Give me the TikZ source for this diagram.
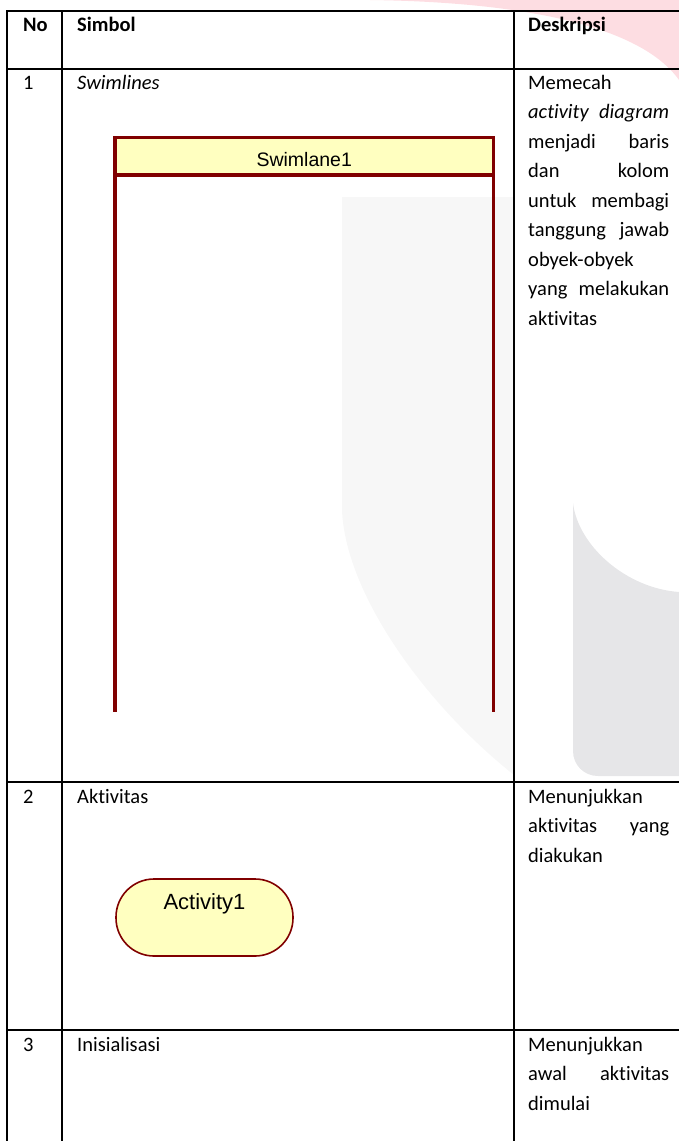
\documentclass[tikz,border=0pt]{standalone}
\usepackage{fontspec}
\setmainfont{Carlito}[Ligatures=NoCommon]
\newfontfamily\shapefont{Liberation Sans}
\definecolor{swred}{HTML}{800000}
\definecolor{swfill}{HTML}{FFFFC0}
\definecolor{wmpink}{HTML}{FDDDE2}
\definecolor{wmlight}{HTML}{F7F7F7}
\definecolor{wmdark}{HTML}{E6E6E8}
\newcommand\jline[2]{\hbox to 141pt{#1\hfill #2}}
\newcommand\lline[1]{\hbox to 141pt{#1\hfill}}
\begin{document}
\begin{tikzpicture}[x=1pt,y=-1pt,
  cell/.style={inner sep=0pt, anchor=base west, font=\fontsize{20.5}{29.5}\selectfont},
  hdr/.style={cell, font=\fontsize{20.5}{29.5}\selectfont\bfseries},
  grid/.style={line width=1.4pt, draw=black, line cap=rect},
  swhead/.style={draw=swred, fill=swfill, line width=3.5pt, minimum width=378.5pt,
    minimum height=37.5pt, inner sep=0pt, outer sep=0pt, text height=20pt, text depth=0pt,
    font=\shapefont\fontsize{19.5}{22}\selectfont},
  swline/.style={draw=swred, line width=3.5pt},
  actbox/.style={draw=swred, fill=swfill, line width=1.6pt, rounded corners=38pt,
    minimum width=177pt, minimum height=77pt, inner sep=0pt, text height=16pt,
    text depth=33pt, font=\shapefont\fontsize{22}{24}\selectfont}]
\useasboundingbox (0,0) rectangle (679,1141);
% watermark
\fill[wmpink] (370,0) .. controls (520,2) and (640,25) .. (679,80) -- (679,0) -- cycle;
\fill[wmlight] (342,197) -- (514,197) -- (514,775) .. controls (420,700) and (345,590) .. (342,510) -- cycle;
\fill[wmdark] (573,503) .. controls (578,545) and (625,588) .. (679,592) -- (679,776) -- (598,776)
  .. controls (584,776) and (573,765) .. (573,751) -- cycle;
% table grid
\draw[grid] (679,11) -- (7,11) -- (7,1141);
\draw[grid] (62,11) -- (62,1141);
\draw[grid] (514,11) -- (514,1141);
\draw[grid] (7,69) -- (679,69);
\draw[grid] (7,782) -- (679,782);
\draw[grid] (7,1030) -- (679,1030);
% header
\node[hdr] (hno) at (23,31) {No};
\node[hdr] (hsim) at (77,31) {Simbol};
\node[hdr] (hdesk) at (528,31) {Deskripsi};
% row 1
\node[cell] (n1) at (23,89) {1};
\node[cell] (s1) at (77,89) {\itshape Swimlines};
\node[cell] (d1) at (528,89) {\parbox[t]{141pt}{%
  \lline{Memecah}%
  \jline{\itshape activity}{\itshape diagram}%
  \jline{menjadi}{baris}%
  \jline{dan}{kolom}%
  \jline{untuk}{membagi}%
  \jline{tanggung}{jawab}%
  \lline{obyek-obyek}%
  \jline{yang}{melakukan}%
  \lline{aktivitas}}};
\node[swhead] (swh) at (304.25,156.25) {Swimlane1};
\coordinate (swl) at (115,712);
\coordinate (swr) at (493.5,712);
\draw[swline] (swh.south west) -- (swl);
\draw[swline] (swh.south east) -- (swr);
% row 2
\node[cell] (n2) at (23,803) {2};
\node[cell] (s2) at (77,803) {Aktivitas};
\node[cell] (d2) at (528,803) {\parbox[t]{141pt}{%
  \lline{Menunjukkan}%
  \jline{aktivitas}{yang}%
  \lline{diakukan}}};
\node[actbox] (act) at (204.5,917.5) {Activity1};
% row 3
\node[cell] (n3) at (23,1051) {3};
\node[cell] (s3) at (77,1051) {Inisialisasi};
\node[cell] (d3) at (528,1051) {\parbox[t]{141pt}{%
  \lline{Menunjukkan}%
  \jline{awal}{aktivitas}%
  \lline{dimulai}}};
\end{tikzpicture}
\end{document}
